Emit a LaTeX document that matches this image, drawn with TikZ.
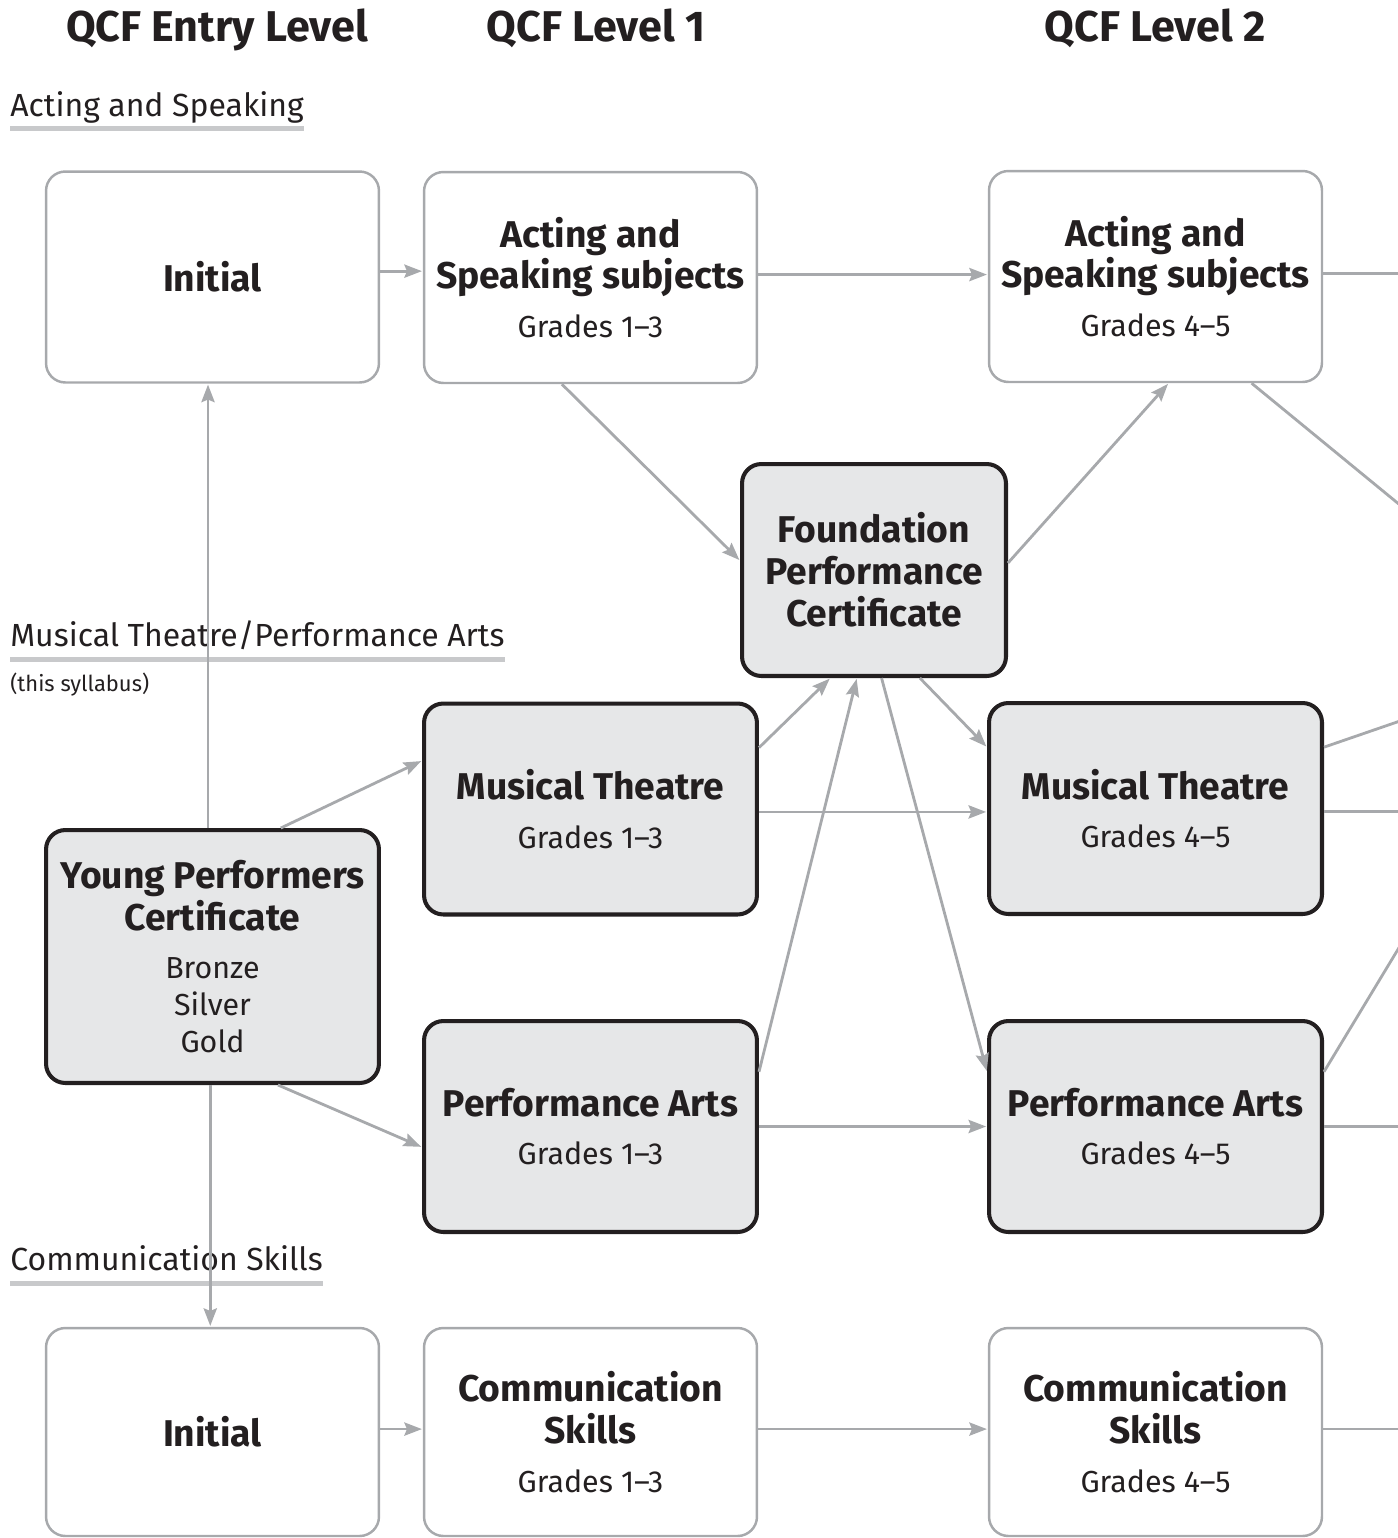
\documentclass[tikz,border=0pt]{standalone}
\usepackage{fontspec}
\setmainfont{Fira Sans}
\usetikzlibrary{arrows.meta}
\definecolor{linegray}{HTML}{A7A9AC}
\definecolor{rulegray}{HTML}{C8C9CB}
\definecolor{boxfill}{HTML}{E6E7E8}
\definecolor{inkdark}{HTML}{231F20}
\newcommand{\boxfont}{\fontsize{21.2}{23.8}\selectfont\bfseries}
\newcommand{\gradefont}{\fontsize{17.3}{21}\selectfont\mdseries}
\tikzstyle{plainbox} = [rectangle, rounded corners=11pt,
minimum width=6.66cm,
minimum height=4.22cm,
inner sep=0pt,
align=center,
text=inkdark,
font=\boxfont,
line width=1.4pt,
draw=linegray]
\tikzstyle{syllbox} = [plainbox,
line width=2.3pt,
draw=inkdark,
fill=boxfill]
\tikzstyle{header} = [anchor=base, inner sep=0pt, text=inkdark,
font=\fontsize{24.5}{28}\selectfont\bfseries]
\tikzstyle{section} = [anchor=base west, inner sep=0pt, text=inkdark,
font=\fontsize{18.2}{21}\selectfont]
\tikzstyle{underbar} = [line width=2.6pt, draw=rulegray]
\tikzstyle{link} = [line width=1.6pt, draw=linegray]
\tikzstyle{arrow} = [link, -{Stealth[length=10pt, width=7.5pt, inset=1.5pt]}, shorten >=0.5pt]

\begin{document}
\begin{tikzpicture}[x=0.02cm, y=-0.02cm]
\useasboundingbox (0,0) rectangle (1398,1538);

% column headings
\node (hdentry) [header] at (217,41) {QCF Entry Level};
\node (hdone) [header] at (596,41) {QCF Level 1};
\node (hdtwo) [header] at (1155,41) {QCF Level 2};

% strands
\node (lblact) [section] at (10,116) {Acting and Speaking};
\node (lblmus) [section] at (10,646) {Musical Theatre/Performance Arts};
\node (lblsyl) [section, font=\fontsize{12.5}{15}\selectfont] at (10,691) {(this syllabus)};
\node (lblcom) [section] at (10,1270) {Communication Skills};

\draw [underbar] ([yshift=-7.2pt]lblact.base west) -- ([yshift=-7.2pt]lblact.base east);
\draw [underbar] ([yshift=-7.6pt]lblmus.base west) -- ([yshift=-7.6pt]lblmus.base east);
\draw [underbar] ([yshift=-7.8pt]lblcom.base west) -- ([yshift=-7.8pt]lblcom.base east);

% acting and speaking
\node (initact) [plainbox] at (212.5,277) {Initial};

\node (actone) [plainbox] at (590.5,277.5) {Acting and\\Speaking subjects\\[4pt]{\gradefont Grades 1–3}};

\node (acttwo) [plainbox] at (1155.5,276.5) {Acting and\\Speaking subjects\\[4pt]{\gradefont Grades 4–5}};

\node (found) [syllbox, minimum width=5.28cm, minimum height=4.24cm] at (874,570) {Foundation\\Performance\\Certificate};

% musical theatre / performance arts
\node (young) [syllbox, minimum height=5.06cm] at (212.5,956.5) {Young Performers\\Certificate\\[4pt]{\gradefont Bronze}\\[-2.8pt]{\gradefont Silver}\\[-2.8pt]{\gradefont Gold}};

\node (musone) [syllbox] at (590.5,809) {Musical Theatre\\[4pt]{\gradefont Grades 1–3}};

\node (mustwo) [syllbox] at (1155.5,808.5) {Musical Theatre\\[4pt]{\gradefont Grades 4–5}};

\node (perfone) [syllbox] at (590.5,1126.5) {Performance Arts\\[4pt]{\gradefont Grades 1–3}};

\node (perftwo) [syllbox] at (1155.5,1126.5) {Performance Arts\\[4pt]{\gradefont Grades 4–5}};

% communication skills
\node (initcom) [plainbox, minimum height=4.16cm] at (212.5,1432) {Initial};

\node (comone) [plainbox, minimum height=4.16cm] at (590.5,1432) {Communication\\Skills\\[4pt]{\gradefont Grades 1–3}};

\node (comtwo) [plainbox, minimum height=4.16cm] at (1155.5,1432) {Communication\\Skills\\[4pt]{\gradefont Grades 4–5}};

% lines running off the page
\coordinate (pageedge) at (1400,0);
\coordinate (actdown) at (1400,505);
\coordinate (musup) at (1400,721);
\coordinate (perfup) at (1400,946);


\draw [arrow] (initact.2) -- (initact.2 -| actone.west);

\draw [arrow] (actone.1.9) -- (actone.1.9 -| acttwo.west);

\draw [link] (acttwo.1.5) -- (acttwo.1.5 -| pageedge);

\draw [arrow] (actone.-105) -- (found.176.6);

\draw [arrow] (found.3) -- (acttwo.-83);

\draw [link] (acttwo.-48.4) -- (actdown);

\draw [arrow] (young.92) -- (young.92 |- initact.south);

\draw [arrow] (young.-91) -- (young.-91 |- initcom.north);

\draw [arrow] (young.62) -- (musone.164.5);

\draw [arrow] (young.-63.7) -- (perfone.187.2);

\draw [arrow] (musone.20) -- (found.-112.7);

\draw [arrow] (perfone.18.4) -- (found.-99.8);

\draw [arrow] (found.-86.8) -- (perftwo.162);

\draw [arrow] (found.-67.6) -- (mustwo.160.9);

\draw [arrow] (musone.-1) -- (musone.-1 -| mustwo.west);

\draw [link] (mustwo.20.9) -- (musup);

\draw [link] (mustwo.-1) -- (mustwo.-1 -| pageedge);

\draw [arrow] (perfone.-0.5) -- (perfone.-0.5 -| perftwo.west);

\draw [link] (perftwo.18.7) -- (perfup);

\draw [link] (perftwo.-0.5) -- (perftwo.-0.5 -| pageedge);

\draw [arrow] (initcom.1) -- (initcom.1 -| comone.west);

\draw [arrow] (comone.1) -- (comone.1 -| comtwo.west);

\draw [link] (comtwo.1) -- (comtwo.1 -| pageedge);

\end{tikzpicture}
\end{document}
